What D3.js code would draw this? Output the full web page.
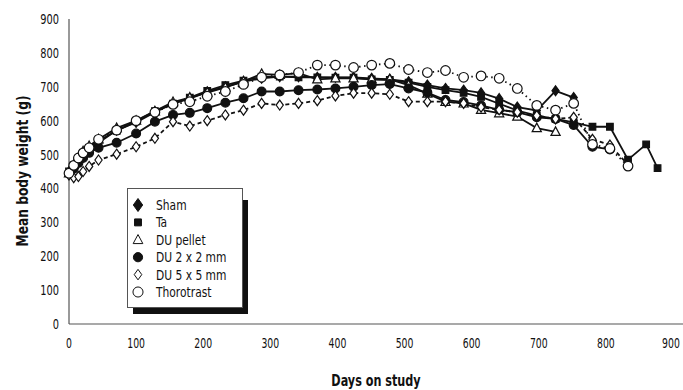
<!DOCTYPE html>
<html>
<head>
<meta charset="utf-8">
<script src="https://cdn.jsdelivr.net/npm/d3@7"></script>
<style>
  html, body { margin: 0; padding: 0; background: #fff; }
  svg { display: block; font-family: "DejaVu Sans Condensed", "DejaVu Sans", sans-serif; font-stretch: condensed; }
</style>
</head>
<body>
<svg id="chart" width="683" height="390"></svg>
<script>
// days on study (shared grid, series stop where they end)
const days = [0, 7, 14, 21, 30, 44, 71, 100, 128, 155, 180, 206, 233, 260, 287, 314, 342, 370, 397, 424,
  451, 478, 506, 534, 561, 588, 614, 641, 668, 697, 725, 752, 780, 806, 833, 860, 877]

const sham = [450, 465, 485, 500, 515, 535, 572, 595, 625, 650, 665, 685, 700, 715, 725, 730, 730, 728, 728, 728,
  725, 722, 715, 705, 695, 690, 682, 665, 640, 630, 688, 668]
const ta = [450, 468, 488, 505, 520, 540, 570, 598, 628, 650, 668, 688, 705, 718, 730, 730, 728, 728, 727, 727,
  722, 720, 712, 700, 690, 682, 670, 650, 630, 615, 605, 595, 582, 582, 485, 530, 460]
const duPellet = [445, 470, 490, 510, 525, 545, 578, 600, 628, 655, 668, 683, 698, 716, 738, 735, 740, 722, 725, 725,
  722, 722, 705, 680, 656, 651, 632, 622, 612, 578, 567]
const du2x2 = [445, 458, 475, 490, 505, 520, 535, 562, 597, 617, 623, 637, 653, 666, 686, 686, 690, 692, 695, 700,
  705, 708, 695, 683, 661, 655, 645, 632, 625, 610, 605, 587, 523, 515]
const du5x5 = [440, 432, 435, 450, 465, 484, 501, 523, 548, 597, 584, 600, 617, 631, 651, 646, 651, 659, 673, 681,
  681, 678, 656, 656, 656, 651, 640, 632, 625, 615, 605, 610, 545, 528, 470]
const thorotrast = [445, 468, 490, 505, 520, 545, 572, 600, 625, 648, 656, 672, 686, 707, 728, 735, 742, 764, 764, 757,
  764, 769, 751, 742, 748, 728, 732, 725, 695, 645, 631, 651, 530, 518, 466]

const seriesNames = ['Sham', 'Ta', 'DU pellet', 'DU 2 x 2 mm', 'DU 5 x 5 mm', 'Thorotrast']
const seriesValues = [sham, ta, duPellet, du2x2, du5x5, thorotrast]
const xTicks = [0, 100, 200, 300, 400, 500, 600, 700, 800, 900]
const yTicks = [0, 100, 200, 300, 400, 500, 600, 700, 800, 900]

// look of each series: marker + line dash
const styles = [
  { shape: 'diamond', fill: '#111', dash: null },
  { shape: 'square', fill: '#111', dash: null },
  { shape: 'triangle', fill: '#fff', dash: null },
  { shape: 'circle', fill: '#111', dash: null },
  { shape: 'diamond', fill: '#fff', dash: '4,3' },
  { shape: 'circle', fill: '#fff', dash: '1.5,3.5', big: true },
]

const svg = d3.select('#chart')
const x = d3.scaleLinear().domain([0, 900]).range([69, 673])
const y = d3.scaleLinear().domain([0, 900]).range([324, 19])

// narrow text: the source uses a condensed face, squeeze it horizontally
function label(parent, px, py, str, opts) {
  const sx = opts.sx || 0.85
  return parent.append('text')
    .attr('transform', `translate(${px},${py})${opts.rotate ? ' rotate(-90)' : ''} scale(${sx},1)`)
    .attr('text-anchor', opts.anchor || 'start')
    .attr('font-size', opts.size || 13)
    .attr('font-weight', opts.bold ? 'bold' : null)
    .attr('fill', '#111')
    .text(str)
}

function markerPath(shape, s, big) {
  if (shape === 'diamond') return `M0,${-5 * s}L${3.6 * s},0L0,${5 * s}L${-3.6 * s},0Z`
  if (shape === 'square') return `M${-3.3 * s},${-3.3 * s}h${6.6 * s}v${6.6 * s}h${-6.6 * s}Z`
  if (shape === 'triangle') return `M0,${-5 * s}L${4.6 * s},${3.6 * s}L${-4.6 * s},${3.6 * s}Z`
  const r = (big ? 4.8 : 4.4) * s
  return `M${r},0A${r},${r} 0 1,1 ${-r},0A${r},${r} 0 1,1 ${r},0Z`
}

// axes (plain lines, no tick marks)
svg.append('line').attr('x1', 69).attr('x2', 69).attr('y1', 19).attr('y2', 324)
  .attr('stroke', '#555').attr('stroke-width', 1.2)
svg.append('line').attr('x1', 69).attr('x2', 683).attr('y1', 324).attr('y2', 324)
  .attr('stroke', '#555').attr('stroke-width', 1.2)

yTicks.forEach((d) => label(svg, 59, y(d) + 5, d, { anchor: 'end', size: 14, sx: 0.78 }))
xTicks.forEach((d) => label(svg, Math.min(x(d), 671), 348, d, { anchor: 'middle', size: 14, sx: 0.74 }))

label(svg, 376, 386, 'Days on study', { anchor: 'middle', size: 16, bold: true, sx: 0.78 })
label(svg, 28, 171, 'Mean body weight (g)', { anchor: 'middle', size: 16, bold: true, sx: 0.85, rotate: true })

// series
const line = d3.line().x((d) => x(d.day)).y((d) => y(d.w))

seriesValues.forEach((vals, i) => {
  const st = styles[i]
  const pts = vals.map((w, j) => ({ day: days[j], w }))
  const g = svg.append('g')
  g.append('path').datum(pts).attr('d', line)
    .attr('fill', 'none').attr('stroke', '#111').attr('stroke-width', 1.8)
    .attr('stroke-dasharray', st.dash)
  g.selectAll('path.m').data(pts).enter().append('path').attr('class', 'm')
    .attr('transform', (d) => `translate(${x(d.day)},${y(d.w)})`)
    .attr('d', markerPath(st.shape, 1, st.big))
    .attr('fill', st.fill).attr('stroke', '#111').attr('stroke-width', 1.2)
})

// legend with drop shadow
const lg = svg.append('g')
lg.append('rect').attr('x', 133).attr('y', 200).attr('width', 115).attr('height', 114).attr('fill', '#111')
lg.append('rect').attr('x', 127.5).attr('y', 188.5).attr('width', 115).attr('height', 119)
  .attr('fill', '#fff').attr('stroke', '#555').attr('stroke-width', 1)

seriesNames.forEach((name, i) => {
  const st = styles[i]
  const cy = 205 + i * 17.4
  lg.append('path').attr('transform', `translate(138,${cy})`)
    .attr('d', markerPath(st.shape, st.shape === 'diamond' && st.fill !== '#fff' ? 1.3 : 1.05, st.big))
    .attr('fill', st.fill).attr('stroke', '#111').attr('stroke-width', 1)
  label(lg, 156, cy + 5, name, { size: 14, sx: 0.85 })
})
</script>
</body>
</html>
